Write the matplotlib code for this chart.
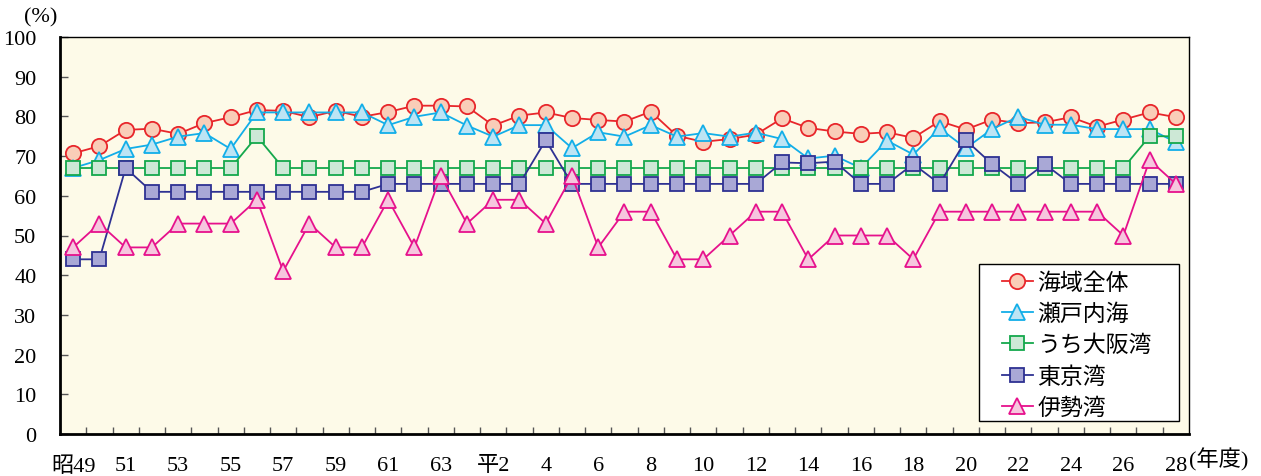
import matplotlib
matplotlib.use("Agg")
import matplotlib.pyplot as plt
from matplotlib.patches import Rectangle
import numpy as np

plt.rcParams['font.family'] = ['Liberation Serif', 'Noto Sans CJK JP', 'DejaVu Sans']

# years: 昭49 (1974) .. 平28 (2016)
years = list(range(1974, 2017))

kaiiki = [70.7, 72.5, 76.6, 76.9, 75.6, 78.3, 79.8, 81.6, 81.4, 79.8, 81.4, 79.9, 81.1, 82.7, 82.7,
          82.5, 77.7, 80.2, 81.0, 79.6, 79.1, 78.7, 81.2, 75.1, 73.6, 74.3, 75.4, 79.5, 77.1,
          76.2, 75.6, 76.0, 74.6, 78.8, 76.7, 79.2, 78.3, 78.5, 79.8, 77.4, 79.2, 81.0, 79.8]
setonai = [67, 69, 71.8, 72.9, 74.9, 75.8, 71.8, 81, 81, 81, 81, 81, 77.8, 79.9, 81.0,
           77.7, 74.9, 77.8, 77.8, 72.0, 76.0, 74.9, 77.8, 74.9, 75.8, 74.9, 75.9, 74.3, 69.4,
           70.1, 67, 73.9, 70.4, 77.0, 72.0, 76.8, 79.9, 77.9, 77.9, 76.8, 76.8, 76.8, 73.5]
osaka = [67, 67, 67, 67, 67, 67, 67, 75, 67, 67, 67, 67, 67, 67, 67,
         67, 67, 67, 67, 67, 67, 67, 67, 67, 67, 67, 67, 67, 67,
         67, 67, 67, 67, 67, 67, 67, 67, 67, 67, 67, 67, 75, 75]
tokyo = [44, 44, 67, 61, 61, 61, 61, 61, 61, 61, 61, 61, 63, 63, 63,
         63, 63, 63, 74, 63, 63, 63, 63, 63, 63, 63, 63, 68.4, 68.2,
         68.6, 63, 63, 68, 63, 74, 68, 63, 68, 63, 63, 63, 63, 63]
ise = [47, 53, 47, 47, 53, 53, 53, 59, 41, 53, 47, 47, 59, 47, 65,
       53, 59, 59, 53, 65, 47, 56, 56, 44, 44, 50, 56, 56, 44,
       50, 50, 50, 44, 56, 56, 56, 56, 56, 56, 56, 50, 69, 63]

series_names = ['海域全体', '瀬戸内海', 'うち大阪湾', '東京湾', '伊勢湾']
series_data = [kaiiki, setonai, osaka, tokyo, ise]
edge_colors = ['#E8262B', '#12AEE8', '#14A84C', '#2E3192', '#E6118C']
face_colors = ['#F9CDB8', '#BDE4F4', '#CDE8D6', '#A9A8D6', '#F6C6DE']
markers = ['o', '^', 's', 's', '^']

# x tick labels (every 2 years)
def label_for(y):
    if y < 1989:
        s = str(y - 1925)
        return '昭' + s if y == 1974 else s
    h = y - 1988
    return '平' + str(h) if h == 2 else str(h)

W, H = 1261, 477
fig = plt.figure(figsize=(W / 100, H / 100), dpi=100)
ax = fig.add_axes([60 / W, 42 / H, 1129 / W, 397 / H])
ax.set_facecolor('#FDFAE8')

x = np.arange(len(years))
for name, d, ec, fc, m in zip(series_names, series_data, edge_colors, face_colors, markers):
    ms = 11 if m == 'o' else (10 if m == 's' else 11)
    ax.plot(x, d, color=ec, lw=1.3, marker=m, markersize=ms,
            markerfacecolor=fc, markeredgecolor=ec, markeredgewidth=1.3, label=name)

ax.set_xlim(-0.5, len(years) - 0.5)
ax.set_ylim(0, 100)
ax.set_yticks(range(0, 101, 10))
ax.set_xticks(x[::2])
ax.set_xticklabels([label_for(y) for y in years[::2]])
ax.set_xticks(np.arange(0.5, len(years) - 0.5, 1), minor=True)

ax.tick_params(axis='x', which='major', length=0, pad=16, labelsize=16)
ax.tick_params(axis='x', which='minor', direction='in', length=5, color='#555555', width=1)
ax.tick_params(axis='y', direction='in', length=6, color='#555555', width=1, pad=17, labelsize=16)

for side in ['left', 'bottom']:
    ax.spines[side].set_linewidth(2)
for side in ['top', 'right']:
    ax.spines[side].set_linewidth(1)

fig.text(24 / W, 1 - 18 / H, '(%)', fontsize=16, va='center', ha='left')
fig.text(1189 / W, 1 - 460 / H, '(年度)', fontsize=16, va='center', ha='left')

# legend frame
frame = Rectangle((979 / W, 1 - 422 / H), 200 / W, 157 / H, transform=fig.transFigure,
                  facecolor='white', edgecolor='black', linewidth=1, zorder=5)
fig.add_artist(frame)

leg = fig.legend(*ax.get_legend_handles_labels(), loc='upper left',
                 bbox_to_anchor=(1002 / W, 1 - 273 / H), bbox_transform=fig.transFigure,
                 frameon=False, prop={'size': 16.5}, handlelength=1.35, handletextpad=0.2,
                 labelspacing=0.43, borderpad=0, borderaxespad=0)
leg.set_zorder(6)

fig.savefig('out.png', dpi=100)
